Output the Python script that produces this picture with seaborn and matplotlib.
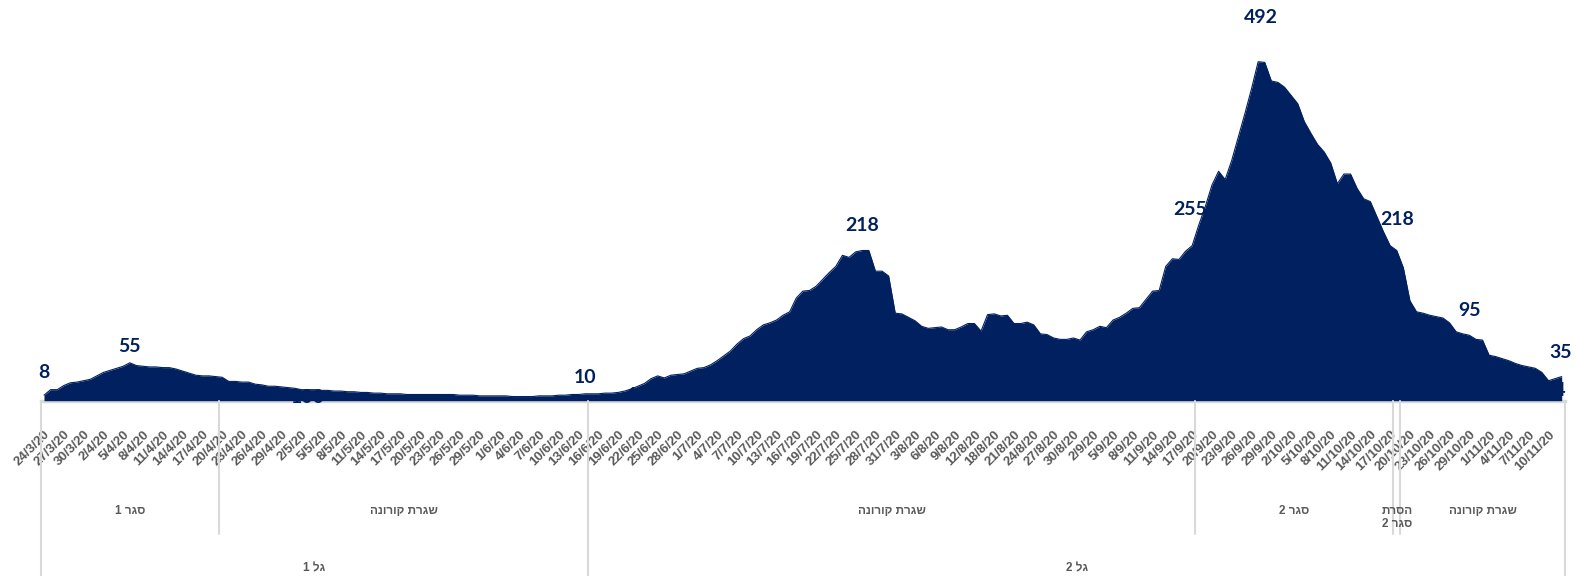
import matplotlib.pyplot as plt
import numpy as np
import pandas as pd
import seaborn as sns

# daily categories 24/3/20 - 12/11/20 (15-17/8 are missing in the source table)
dates = pd.date_range("2020-03-24", "2020-11-12")
dates = dates[~dates.isin(pd.to_datetime(["2020-08-15", "2020-08-16", "2020-08-17"]))]
date_labels = [f"{d.day}/{d.month}/20" for d in dates]

values = [
    8, 16, 16, 22, 26, 27, 29, 31, 36, 41, 44, 47, 50, 55, 51, 50, 49, 49, 48, 48,
    46, 43, 40, 37, 36, 36, 35, 34, 28, 28, 27, 27, 24, 23, 21, 21, 20, 19, 18, 16,
    16, 16, 15, 15, 14, 14, 13, 13, 12, 12, 11, 11, 10, 10, 10, 9, 9, 9, 9, 9,
    9, 9, 9, 8, 8, 8, 7, 7, 7, 7, 7, 6, 6, 6, 6, 7, 7, 7, 8, 8,
    9, 9, 10, 10, 10, 11, 11, 12, 14, 17, 21, 25, 32, 36, 33, 37, 38, 39, 43, 47,
    48, 52, 58, 65, 72, 82, 90, 94, 103, 110, 113, 117, 124, 129, 149, 159, 160, 166, 176, 186,
    195, 211, 208, 216, 218, 218, 188, 188, 181, 127, 126, 121, 116, 108, 105, 106, 107, 103, 103, 107,
    112, 112, 101, 125, 126, 123, 124, 112, 112, 114, 110, 97, 96, 91, 89, 89, 91, 88, 100, 103,
    108, 106, 117, 121, 127, 134, 135, 147, 159, 160, 195, 206, 205, 217, 225, 255, 282, 313, 333, 321,
    349, 383, 417, 453, 492, 491, 464, 462, 455, 443, 431, 405, 388, 372, 361, 345, 315, 329, 329, 308,
    293, 289, 267, 245, 225, 218, 193, 145, 129, 127, 124, 122, 120, 113, 100, 97, 95, 89, 88, 66,
    64, 61, 58, 54, 51, 49, 47, 41, 29, 32, 35,
]

# data labels shown on the chart (category index) and their offsets in points
label_idx = [0, 13, 82, 124, 175, 184, 205, 216, 230]
label_dx = [0, 0, 0, 0, -6.5, 2, 0, 0, -1]
label_dy = [16, 11.5, 12, 18, 11, 32, 22, 18, 17]

# labels hidden behind the area in the original
hidden_idx = [40, 90, 229]
hidden_text = ["100", "10", "34"]
hidden_val = [5, 8, 15]

# second and third level of the category axis
periods = ["סגר 1", "שגרת קורונה", "שגרת קורונה", "סגר 2", "הסרת\nסגר 2", "שגרת קורונה"]
period_start = ["2020-03-24", "2020-04-20", "2020-06-15", "2020-09-18", "2020-10-18", "2020-10-19"]
waves = ["גל 1", "גל 2"]
wave_start = ["2020-03-24", "2020-06-15"]

NAVY = "#002060"
GREY = "#595959"
LINE = "#D9D9D9"
HEB = ["Liberation Sans", "DejaVu Sans"]


def rtl(s):
    # matplotlib has no bidi support: write each line in visual order
    return "\n".join(line[::-1] for line in s.split("\n"))


sns.set_style("white")
plt.rcParams["font.family"] = ["Liberation Sans", "DejaVu Sans"]

n = len(values)
df = pd.DataFrame({"i": np.arange(n), "v": values})

fig = plt.figure(figsize=(15.77, 5.76), dpi=100)
ax = fig.add_axes([40.7 / 1577, 175.3 / 576, (1565 - 40.7) / 1577, 399.6 / 576])

ax.fill_between(df["i"], df["v"], color=NAVY, lw=0, zorder=2)
sns.lineplot(data=df, x="i", y="v", color=NAVY, lw=0.8, ax=ax, zorder=3)

ax.set_xlim(-0.5, n - 0.5)
ax.set_ylim(0, 580)
ax.set_yticks([])
ax.set_xlabel("")
ax.set_ylabel("")
for s in ["left", "top", "right"]:
    ax.spines[s].set_visible(False)
ax.spines["bottom"].set_color(LINE)
ax.spines["bottom"].set_linewidth(2.5)
ax.spines["bottom"].set_zorder(1)

ax.set_xticks(range(0, n, 3))
ax.set_xticklabels(date_labels[::3], rotation=45, ha="right", va="top",
                   rotation_mode="anchor", fontsize=9.5, fontweight="bold", color=GREY)
ax.tick_params(axis="x", length=0, pad=20)

# data labels
for i, dx, dy in zip(label_idx, label_dx, label_dy):
    ax.annotate(str(values[i]), (i, values[i]), xytext=(dx, dy), textcoords="offset points",
                ha="center", va="center", fontsize=14, fontweight="bold", color=NAVY,
                family=["Lato", "DejaVu Sans"], zorder=5)
for i, t, v in zip(hidden_idx, hidden_text, hidden_val):
    ax.text(i, v, t, ha="center", va="center", fontsize=14, fontweight="bold", color=NAVY,
            family=["Lato", "DejaVu Sans"], zorder=4)

# multi-level category axis
trans = ax.get_xaxis_transform()
p_idx = [dates.get_loc(pd.Timestamp(s)) for s in period_start] + [n]
w_idx = [dates.get_loc(pd.Timestamp(s)) for s in wave_start] + [n]

for k, name in enumerate(periods):
    a, b = p_idx[k], p_idx[k + 1] - 1
    ax.text((a + b) / 2, -0.261, rtl(name), transform=trans, ha="center", va="top",
            fontsize=8.5, fontweight="bold", color=GREY, family=HEB, linespacing=1.1)
    if k > 0 and p_idx[k] not in w_idx:
        ax.axvline(a - 0.5, ymin=-0.334, ymax=0, color=LINE, lw=1.5, clip_on=False)

for k, name in enumerate(waves):
    a, b = w_idx[k], w_idx[k + 1] - 1
    ax.text((a + b) / 2, -0.419, rtl(name), transform=trans, ha="center", va="center",
            fontsize=8.5, fontweight="bold", color=GREY, family=HEB)
for b in w_idx:
    ax.axvline(b - 0.5, ymin=-0.44, ymax=0, color=LINE, lw=1.5, clip_on=False)

fig.savefig("out.png", dpi=100)
